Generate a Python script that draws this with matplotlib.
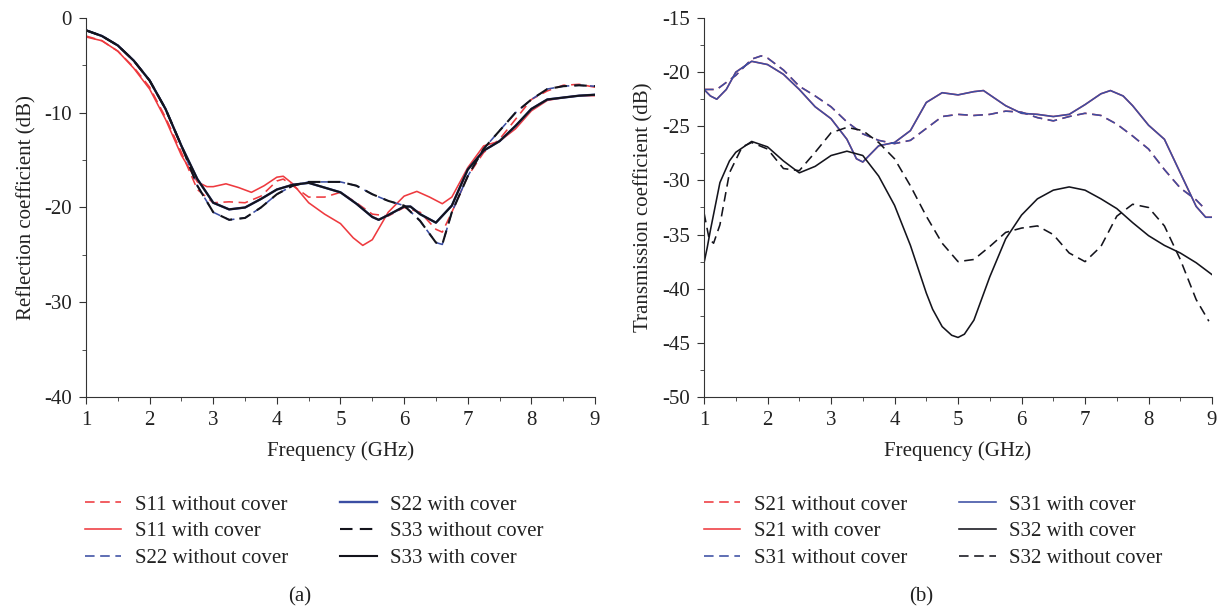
import matplotlib
matplotlib.use("Agg")
import matplotlib.pyplot as plt
from matplotlib.ticker import MultipleLocator

plt.rcParams['font.family'] = ['Liberation Serif', 'DejaVu Serif']
plt.rcParams['axes.unicode_minus'] = False

# ---------------- Panel (a) data ----------------
x_s11_with = [1, 1.25, 1.5, 1.75, 2, 2.25, 2.5, 2.75, 2.9, 3, 3.2, 3.4, 3.6, 3.8, 4, 4.1, 4.25, 4.5, 4.75,
              5, 5.2, 5.35, 5.5, 5.75, 6, 6.2, 6.4, 6.6, 6.75, 7, 7.25, 7.5, 7.75, 8, 8.25, 8.5, 8.75, 9]
s11_with = [-2.0, -2.4, -3.5, -5.3, -7.5, -10.7, -14.5, -17.3, -17.8, -17.8, -17.5, -17.9, -18.4, -17.7, -16.8,
            -16.7, -17.5, -19.5, -20.7, -21.7, -23.2, -24.0, -23.4, -20.5, -18.8, -18.3, -18.9, -19.6, -18.9,
            -15.8, -13.5, -13.0, -11.7, -9.8, -8.7, -8.4, -8.2, -8.2]

x_s11_without = [1, 1.25, 1.5, 1.75, 2, 2.25, 2.5, 2.75, 3, 3.25, 3.5, 3.75, 4, 4.1, 4.25, 4.5, 4.75, 5, 5.25,
                 5.5, 5.75, 6, 6.25, 6.5, 6.6, 6.75, 7, 7.25, 7.5, 7.75, 8, 8.25, 8.5, 8.75, 9]
s11_without = [-1.9, -2.4, -3.5, -5.2, -7.3, -10.5, -14.2, -18.1, -19.5, -19.4, -19.5, -18.8, -17.2, -17.0,
               -17.7, -18.9, -18.9, -18.4, -19.5, -20.7, -20.9, -20.0, -20.5, -22.3, -22.6, -20.5, -16.7, -14.2,
               -12.8, -10.7, -8.6, -7.7, -7.1, -7.0, -7.3]

x_s33_with = [1, 1.25, 1.5, 1.75, 2, 2.25, 2.5, 2.75, 3, 3.25, 3.5, 3.75, 4, 4.25, 4.5, 4.75, 5, 5.25, 5.5,
              5.6, 5.75, 6, 6.1, 6.25, 6.5, 6.75, 7, 7.25, 7.5, 7.75, 8, 8.25, 8.5, 8.75, 9]
s33_with = [-1.3, -1.9, -2.9, -4.5, -6.6, -9.6, -13.5, -17.0, -19.5, -20.2, -20.0, -19.1, -18.1, -17.6, -17.4,
            -17.9, -18.4, -19.6, -21.0, -21.3, -20.8, -19.9, -19.9, -20.7, -21.6, -19.8, -16.0, -14.0, -13.0,
            -11.4, -9.6, -8.6, -8.4, -8.2, -8.1]

x_s33_without = [1, 1.25, 1.5, 1.75, 2, 2.25, 2.5, 2.75, 3, 3.25, 3.5, 3.75, 4, 4.25, 4.5, 4.75, 5, 5.25, 5.5,
                 5.75, 6, 6.25, 6.5, 6.6, 6.75, 7, 7.25, 7.5, 7.75, 8, 8.25, 8.5, 8.75, 9]
s33_without = [-1.3, -1.9, -2.9, -4.5, -6.6, -9.6, -13.5, -17.7, -20.5, -21.3, -21.1, -20.0, -18.6, -17.7,
               -17.3, -17.3, -17.3, -17.7, -18.6, -19.3, -19.8, -21.4, -23.7, -23.9, -20.5, -16.7, -13.8, -11.9,
               -10.0, -8.6, -7.5, -7.2, -7.1, -7.2]

# S22 curves are hidden beneath the S33 curves in the reference
x_s22_with = x_s33_with
s22_with = s33_with
x_s22_without = x_s33_without
s22_without = s33_without

# ---------------- Panel (b) data ----------------
x_s31_with = [1, 1.1, 1.2, 1.35, 1.5, 1.75, 2, 2.25, 2.5, 2.75, 3, 3.25, 3.4, 3.5, 3.75, 4, 4.25, 4.5, 4.75,
              5, 5.25, 5.4, 5.75, 6, 6.25, 6.5, 6.75, 7, 7.25, 7.4, 7.6, 7.75, 8, 8.25, 8.5, 8.75, 8.9, 9]
s31_with = [-21.6, -22.2, -22.5, -21.6, -20.0, -19.0, -19.3, -20.2, -21.6, -23.2, -24.3, -26.2, -28.0, -28.3,
            -26.8, -26.5, -25.4, -22.8, -21.9, -22.1, -21.8, -21.7, -23.1, -23.8, -23.9, -24.1, -23.9, -23.0,
            -22.0, -21.7, -22.2, -23.1, -24.9, -26.2, -29.3, -32.4, -33.4, -33.4]

x_s31_without = [1, 1.2, 1.5, 1.75, 1.9, 2, 2.25, 2.5, 2.75, 3, 3.25, 3.5, 3.75, 4, 4.25, 4.5, 4.75, 5, 5.25,
                 5.5, 5.75, 6, 6.25, 6.5, 6.75, 7, 7.25, 7.5, 7.75, 8, 8.25, 8.5, 8.75, 8.85]
s31_without = [-21.6, -21.6, -20.3, -18.8, -18.5, -18.7, -19.8, -21.3, -22.2, -23.2, -24.6, -25.7, -26.3, -26.6,
               -26.3, -25.2, -24.1, -23.9, -24.0, -23.9, -23.6, -23.7, -24.2, -24.5, -24.1, -23.8, -24.0, -24.8,
               -25.9, -27.1, -29.0, -30.7, -31.8, -32.4]

# S21 curves coincide with the S31 curves in the reference
x_s21_with = x_s31_with
s21_with = s31_with
x_s21_without = x_s31_without
s21_without = s31_without

x_s32_with = [1, 1.05, 1.1, 1.25, 1.4, 1.5, 1.75, 2, 2.25, 2.5, 2.75, 3, 3.25, 3.5, 3.75, 4, 4.25, 4.5, 4.6,
              4.75, 4.9, 5, 5.1, 5.25, 5.4, 5.5, 5.75, 6, 6.25, 6.5, 6.75, 7, 7.25, 7.5, 7.75, 8, 8.25, 8.5,
              8.75, 9]
s32_with = [-37.6, -36.2, -34.6, -30.2, -28.2, -27.4, -26.4, -26.9, -28.2, -29.3, -28.7, -27.7, -27.3, -27.7,
            -29.6, -32.3, -36.0, -40.4, -41.9, -43.5, -44.3, -44.5, -44.2, -42.9, -40.5, -38.9, -35.4, -33.2,
            -31.7, -30.9, -30.6, -30.9, -31.7, -32.6, -33.9, -35.1, -36.0, -36.7, -37.6, -38.7]

x_s32_without = [1, 1.08, 1.15, 1.25, 1.4, 1.6, 1.75, 2, 2.25, 2.5, 2.75, 3, 3.25, 3.5, 3.75, 4, 4.25, 4.5,
                 4.75, 5, 5.25, 5.5, 5.75, 6, 6.25, 6.5, 6.75, 7, 7.25, 7.5, 7.75, 8, 8.25, 8.5, 8.75, 8.95]
s32_without = [-33.0, -35.4, -35.8, -34.1, -29.3, -26.9, -26.5, -27.1, -28.9, -29.1, -27.4, -25.6, -25.1,
               -25.4, -26.5, -28.0, -30.5, -33.3, -35.8, -37.5, -37.3, -36.1, -34.8, -34.4, -34.2, -35.0,
               -36.7, -37.5, -36.1, -33.3, -32.2, -32.5, -34.2, -37.3, -41.0, -43.0]

RED = '#ee3a3f'
BLUE = '#3b4ea3'
BLACK = '#14141c'
DASH = (0, (6, 3.5))
LW = 1.15
LWK = 1.5
FS = 15
TXT = '#222222'

fig = plt.figure(figsize=(12.27, 6.12), dpi=100)
axA = fig.add_axes([0.0701, 0.3513, 0.4148, 0.6193])
axB = fig.add_axes([0.5738, 0.3513, 0.4140, 0.6193])

axA.plot(x_s11_without, s11_without, color=RED, ls=DASH, lw=LW, label='S11 without cover')
axA.plot(x_s11_with, s11_with, color=RED, ls='-', lw=LW, label='S11 with cover')
axA.plot(x_s22_without, s22_without, color=BLUE, ls=DASH, lw=LW, label='S22 without cover')
axA.plot(x_s22_with, s22_with, color=BLUE, ls='-', lw=LWK + 0.2, label='S22 with cover')
axA.plot(x_s33_without, s33_without, color=BLACK, ls=DASH, lw=LWK, label='S33 without cover')
axA.plot(x_s33_with, s33_with, color=BLACK, ls='-', lw=LWK, label='S33 with cover')

axB.plot(x_s21_without, s21_without, color=RED, ls=DASH, lw=LW, label='S21 without cover')
axB.plot(x_s21_with, s21_with, color=RED, ls='-', lw=LW, label='S21 with cover')
axB.plot(x_s31_without, s31_without, color=BLUE, ls=DASH, lw=LW, label='S31 without cover')
axB.plot(x_s31_with, s31_with, color=BLUE, ls='-', lw=LW, label='S31 with cover')
axB.plot(x_s32_with, s32_with, color=BLACK, ls='-', lw=LW, label='S32 with cover')
axB.plot(x_s32_without, s32_without, color=BLACK, ls=DASH, lw=LW, label='S32 without cover')

for ax in (axA, axB):
    ax.set_xlim(1, 9)
    ax.spines['top'].set_visible(False)
    ax.spines['right'].set_visible(False)
    for s in ('left', 'bottom'):
        ax.spines[s].set_color('#333333')
    ax.xaxis.set_major_locator(MultipleLocator(1))
    ax.xaxis.set_minor_locator(MultipleLocator(0.5))
    ax.tick_params(which='both', direction='out', labelsize=FS, colors='#333333', labelcolor=TXT)
    ax.tick_params(which='major', length=5, pad=5)
    ax.tick_params(which='minor', length=3)
    ax.set_xlabel('Frequency (GHz)', fontsize=FS, color=TXT, labelpad=8)

axA.set_ylim(-40, 0)
axA.yaxis.set_major_locator(MultipleLocator(10))
axA.yaxis.set_minor_locator(MultipleLocator(5))
axA.set_ylabel('Reflection coefficient (dB)', fontsize=FS, color=TXT, labelpad=6)

axB.set_ylim(-50, -15)
axB.yaxis.set_major_locator(MultipleLocator(5))
axB.yaxis.set_minor_locator(MultipleLocator(2.5))
axB.set_ylabel('Transmission coefficient (dB)', fontsize=FS, color=TXT, labelpad=6)

for ax, x0 in ((axA, 85 / 1227), (axB, 704 / 1227)):
    h, l = ax.get_legend_handles_labels()
    fig.legend(h, l, ncol=2, loc='upper left', bbox_to_anchor=(x0, 1 - 495 / 612), frameon=False,
               fontsize=FS, handlelength=1.75, columnspacing=2.5, labelspacing=0.35,
               handletextpad=0.65, borderpad=0, borderaxespad=0, labelcolor=TXT)

fig.text(300 / 1227, 1 - 597 / 612, '(a)', ha='center', va='center', fontsize=FS, color=TXT)
fig.text(921 / 1227, 1 - 597 / 612, '(b)', ha='center', va='center', fontsize=FS, color=TXT)

fig.savefig('out.png', dpi=100)
